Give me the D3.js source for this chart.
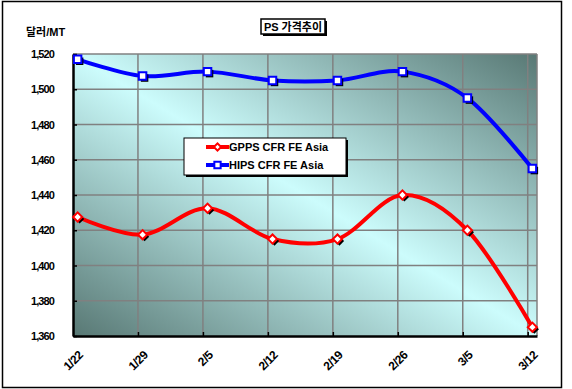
<!DOCTYPE html>
<html>
<head>
<meta charset="utf-8">
<script src="https://cdn.jsdelivr.net/npm/d3@7"></script>
<style>
  body { margin: 0; background: #fff; }
  text { font-family: "Liberation Sans", Arial, "Noto Sans CJK KR", sans-serif; font-weight: bold; }
</style>
</head>
<body>
<div class="chart"></div>
<script>
var svgWidth = 572;
var svgHeight = 389;

var margin = { top: 54, right: 35, bottom: 53, left: 73 };
var width = 537 - margin.left;
var height = 336 - margin.top;

// data
var dateLabels = ["1/22", "1/29", "2/5", "2/12", "2/19", "2/26", "3/5", "3/12"];
var gpps = [1427.5, 1417.5, 1432.5, 1415, 1415, 1440, 1420, 1365];
var hips = [1517, 1507.5, 1510, 1505, 1505, 1510, 1495, 1455];
var yTicks = [1360, 1380, 1400, 1420, 1440, 1460, 1480, 1500, 1520];
var seriesNames = ["GPPS CFR FE Asia", "HIPS CFR FE Asia"];
var title = "PS 가격추이";
var unitLabel = "달러/MT";

var dates = dateLabels.map(function(s) {
  var p = s.split("/");
  return new Date(2010, +p[0] - 1, +p[1]);
});

var svg = d3.select(".chart")
  .append("svg")
  .attr("width", svgWidth)
  .attr("height", svgHeight);

var defs = svg.append("defs");
var grad = defs.append("linearGradient")
  .attr("id", "bg")
  .attr("x1", 0).attr("y1", 1).attr("x2", 1).attr("y2", 0);
grad.append("stop").attr("offset", "0%").attr("stop-color", "#587874");
grad.append("stop").attr("offset", "50%").attr("stop-color", "#ccfcfc");
grad.append("stop").attr("offset", "100%").attr("stop-color", "#587874");

// outer frame
svg.append("rect")
  .attr("x", 2.5).attr("y", 1.5)
  .attr("width", 559).attr("height", 386)
  .attr("fill", "#fff")
  .attr("stroke", "#000")
  .attr("stroke-width", 1.5);

var chartGroup = svg.append("g")
  .attr("transform", `translate(${margin.left}, ${margin.top})`);

// scales
var start = d3.timeHour.offset(dates[0], -12);
var end = d3.timeHour.offset(dates[dates.length - 1], 12);
var xScale = d3.scaleTime()
  .domain([start, end])
  .range([0, width]);

var yScale = d3.scaleLinear()
  .domain([1360, 1520])
  .range([height, 0]);

chartGroup.append("rect")
  .attr("width", width)
  .attr("height", height)
  .attr("fill", "url(#bg)");

// grid
var gridDates = d3.range(1, dates.length).map(function(k) { return d3.timeDay.offset(start, 7 * k); });

chartGroup.selectAll(".hgrid")
  .data(yTicks.slice(1))
  .enter()
  .append("line")
  .attr("x1", 0).attr("x2", width)
  .attr("y1", d => yScale(d)).attr("y2", d => yScale(d))
  .attr("stroke", "#808080")
  .attr("stroke-width", 1.5);

chartGroup.selectAll(".vgrid")
  .data(gridDates)
  .enter()
  .append("line")
  .attr("x1", d => xScale(d)).attr("x2", d => xScale(d))
  .attr("y1", 0).attr("y2", height)
  .attr("stroke", "#808080")
  .attr("stroke-width", 1.5);

chartGroup.append("line")
  .attr("x1", width).attr("x2", width).attr("y1", 0).attr("y2", height)
  .attr("stroke", "#808080").attr("stroke-width", 1.5);

// axes
var yAxis = d3.axisLeft(yScale)
  .tickValues(yTicks)
  .tickSizeInner(-4)
  .tickSizeOuter(0)
  .tickPadding(19)
  .tickFormat(d3.format(","));

var yG = chartGroup.append("g").call(yAxis);
yG.select(".domain").attr("stroke", "#000").attr("stroke-width", 2.5);
yG.selectAll(".tick line").attr("stroke", "#000").attr("stroke-width", 1.5);
yG.selectAll("text")
  .attr("font-size", 11)
  .attr("font-weight", "bold")
  .attr("letter-spacing", "-0.9px")
  .attr("font-family", "Liberation Sans, Arial, sans-serif")
  .attr("fill", "#000");

var xAxis = d3.axisBottom(xScale)
  .tickValues(gridDates)
  .tickSizeInner(-4)
  .tickSizeOuter(0)
  .tickFormat("");

var xG = chartGroup.append("g")
  .attr("transform", `translate(0, ${height})`)
  .call(xAxis);
xG.select(".domain").attr("stroke", "#000").attr("stroke-width", 2.5);
xG.selectAll(".tick line").attr("stroke", "#000").attr("stroke-width", 1.5);

chartGroup.selectAll(".xlabel")
  .data(dates)
  .enter()
  .append("text")
  .attr("transform", d => `translate(${xScale(d) + 3}, ${height + 17}) rotate(-45)`)
  .attr("text-anchor", "end")
  .attr("dy", "0.35em")
  .attr("font-size", 12)
  .attr("letter-spacing", "-0.5px")
  .text((d, i) => dateLabels[i]);

// lines
var line = d3.line()
  .x((d, i) => xScale(dates[i]))
  .y(d => yScale(d))
  .curve(d3.curveCardinal.tension(0));

function drawSeries(values, color, rotate) {
  chartGroup.append("path")
    .attr("d", line(values))
    .attr("fill", "none")
    .attr("stroke", color)
    .attr("stroke-width", 4);

  var sym = d3.symbol().type(d3.symbolSquare).size(rotate ? 42 : 56);
  var rot = rotate ? " rotate(45)" : "";
  var g = chartGroup.selectAll(null)
    .data(values)
    .enter()
    .append("g")
    .attr("transform", (d, i) => `translate(${xScale(dates[i])}, ${yScale(d)})`);
  g.append("path")
    .attr("d", sym)
    .attr("transform", "translate(2,2)" + rot)
    .attr("fill", "#000");
  g.append("path")
    .attr("d", sym)
    .attr("transform", rot || null)
    .attr("fill", "#fff")
    .attr("stroke", color)
    .attr("stroke-width", 2);
}

drawSeries(gpps, "#ff0000", true);
drawSeries(hips, "#0000ff", false);

// unit label
svg.append("text")
  .attr("x", 26).attr("y", 36)
  .attr("font-size", 11)
  .text(unitLabel);

// title
svg.append("rect")
  .attr("x", 263).attr("y", 21).attr("width", 64).attr("height", 15)
  .attr("fill", "#000");
svg.append("rect")
  .attr("x", 261).attr("y", 19).attr("width", 64).attr("height", 15)
  .attr("fill", "#fff").attr("stroke", "#000").attr("stroke-width", 1.5);
svg.append("text")
  .attr("x", 293).attr("y", 31)
  .attr("text-anchor", "middle")
  .attr("font-size", 11)
  .text(title);

// legend
var lg = svg.append("g").attr("transform", "translate(184, 138)");
lg.append("rect").attr("x", 2).attr("y", 2).attr("width", 162).attr("height", 37).attr("fill", "#000");
lg.append("rect").attr("width", 162).attr("height", 37)
  .attr("fill", "#fff").attr("stroke", "#000").attr("stroke-width", 1);

var legendColors = ["#ff0000", "#0000ff"];
seriesNames.forEach(function(name, i) {
  var yy = 9 + i * 18;
  lg.append("line")
    .attr("x1", 22).attr("x2", 45).attr("y1", yy).attr("y2", yy)
    .attr("stroke", legendColors[i]).attr("stroke-width", 4);
  var s = d3.symbol().type(d3.symbolSquare).size(i === 0 ? 26 : 40);
  lg.append("path")
    .attr("d", s)
    .attr("transform", `translate(33.5, ${yy})` + (i === 0 ? " rotate(45)" : ""))
    .attr("fill", "#fff")
    .attr("stroke", legendColors[i]).attr("stroke-width", 2);
  lg.append("text")
    .attr("x", 45).attr("y", yy).attr("dy", "0.35em")
    .attr("font-size", 11)
    .text(name);
});
</script>
</body>
</html>
